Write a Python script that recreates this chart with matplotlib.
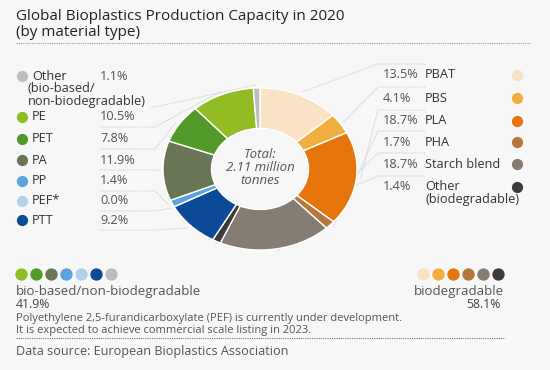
import numpy as np
import matplotlib
matplotlib.use("Agg")
import matplotlib.pyplot as plt

plt.rcParams['font.family'] = ['Open Sans', 'DejaVu Sans']

# biodegradable materials (right side), clockwise from 12 o'clock
bio_names = ["PBAT", "PBS", "PLA", "PHA", "Starch blend", "Other\n(biodegradable)"]
bio_values = [13.5, 4.1, 18.7, 1.7, 18.7, 1.4]
bio_colors = ["#f8e3c4", "#f0ae40", "#e6760c", "#b7773a", "#857c72", "#3c3c3c"]

# bio-based / non-biodegradable materials (left side), top to bottom
nb_names = ["Other\n(bio-based/\nnon-biodegradable)", "PE", "PET", "PA", "PP", "PEF*", "PTT"]
nb_values = [1.1, 10.5, 7.8, 11.9, 1.4, 0.0, 9.2]
nb_colors = ["#bdbdbd", "#91bc24", "#519a2a", "#687656", "#5ca2dc", "#b2d0ee", "#0c4a97"]

group_labels = ["bio-based/non-biodegradable", "biodegradable"]
group_shares = ["41.9%", "58.1%"]
total_text = "Total:\n2.11 million\ntonnes"

W, H = 550, 370
bg = "#f7f7f7"
fs_lab = 9.2
fig = plt.figure(figsize=(W / 100, H / 100), dpi=100, facecolor=bg)

# overlay axes in pixel coordinates for text and decorations
ov = fig.add_axes([0, 0, 1, 1], zorder=0)
ov.set_xlim(0, W)
ov.set_ylim(H, 0)
ov.axis("off")

# donut, slightly stretched horizontally like the original
cx, cy, rx, ry = 260, 169, 97, 81
pa = fig.add_axes([(cx - rx) / W, (H - cy - ry) / H, 2 * rx / W, 2 * ry / H], zorder=2)
values = bio_values + nb_values[::-1]
colors = bio_colors + nb_colors[::-1]
pa.pie(values, colors=colors, startangle=90, counterclock=False,
       wedgeprops=dict(width=0.5, edgecolor="white", linewidth=1.0))
pa.set_aspect("auto")
pa.set_xlim(-1, 1)
pa.set_ylim(-1, 1)
pa.axis("off")
pa.text(0, 0.02, total_text, ha="center", va="center", fontsize=9.5,
        style="italic", color="#555555", linespacing=1.0)

# mid angles for leader lines
cum = np.cumsum([0] + values)
mids = 90 - 360 * (cum[:-1] + np.array(values) / 2) / 100


def edge_point(ang, r=1.04):
    a = np.deg2rad(ang)
    return cx + rx * r * np.cos(a), cy - ry * r * np.sin(a)


def multiline(x, y, name, indent=0):
    # first line at y, following lines stacked below, each a separate text
    for n, part in enumerate(name.split("\n")):
        ov.text(x if n == 0 else x - indent, y + 12.5 * n, part, fontsize=fs_lab,
                color="#333333", va="center")


line_kw = dict(color="#c8c8c8", lw=0.7, linestyle=(0, (1, 1)), zorder=1)

# title
ov.text(16, 17, "Global Bioplastics Production Capacity in 2020", fontsize=11,
        color="#222222", va="center")
ov.text(16, 32, "(by material type)", fontsize=11, color="#222222", va="center")
ov.plot([16, 530], [43, 43], color="#9a9a9a", lw=0.8, linestyle=(0, (1, 1)))

# left labels
left_y = [76, 117, 139, 160, 181, 201, 220]
for i, (name, v, c, y) in enumerate(zip(nb_names, nb_values, nb_colors, left_y)):
    ov.scatter(22, y, s=50, color=c, zorder=3)
    multiline(32, y, name, indent=4)
    ov.text(100, y, f"{v:.1f}%", fontsize=fs_lab, color="#555555", va="center")
    k = len(values) - 1 - i
    ex, ey = edge_point(mids[k])
    ly = y + 31 if i == 0 else y + 10
    ov.plot([150 if i == 0 else 100, 155, ex], [ly, ly, ey], **line_kw)

# right labels
right_y = [75, 98, 121, 142, 164, 187]
for i, (name, v, c, y) in enumerate(zip(bio_names, bio_values, bio_colors, right_y)):
    ov.scatter(517, y, s=50, color=c, zorder=3)
    ov.text(383, y, f"{v:.1f}%", fontsize=fs_lab, color="#555555", va="center")
    multiline(425, y, name)
    ex, ey = edge_point(mids[i])
    ly = y - 11
    ov.plot([425, 378, ex], [ly, ly, ey], **line_kw)

# bottom group legend
for j, c in enumerate(nb_colors[1:] + nb_colors[:1]):
    ov.scatter(21 + 15 * j, 274, s=62, color=c, zorder=3)
for j, c in enumerate(bio_colors):
    ov.scatter(423 + 15 * j, 274, s=62, color=c, zorder=3)

ov.text(16, 291, group_labels[0], fontsize=9.6, color="#555555", va="center")
ov.text(504, 291, group_labels[1], fontsize=9.6, color="#555555", va="center", ha="right")
ov.text(16, 304, group_shares[0], fontsize=8.8, color="#444444", va="center")
ov.text(501, 304, group_shares[1], fontsize=8.8, color="#444444", va="center", ha="right")

ov.text(16, 318, "Polyethylene 2,5-furandicarboxylate (PEF) is currently under development.",
        fontsize=8.0, color="#555555", va="center")
ov.text(16, 330, "It is expected to achieve commercial scale listing in 2023.",
        fontsize=8.0, color="#555555", va="center")
ov.plot([16, 505], [337.5, 337.5], color="#777777", lw=0.8, linestyle=(0, (1, 1)))
ov.text(16, 351, "Data source: European Bioplastics Association", fontsize=9.1,
        color="#555555", va="center")

fig.savefig("out.png", dpi=100, facecolor=bg)
